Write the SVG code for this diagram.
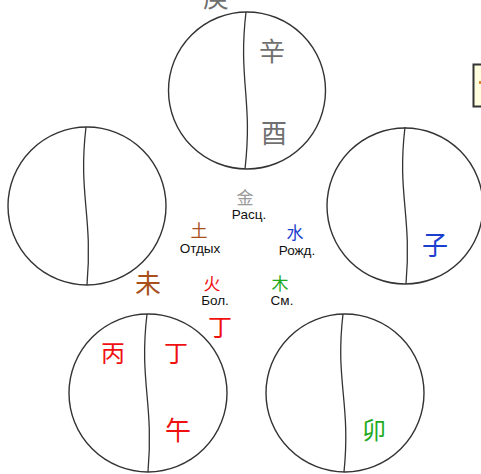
<svg xmlns="http://www.w3.org/2000/svg" width="481" height="474" viewBox="0 0 481 474">
<style>
.ring{fill:#fff;stroke:#333;stroke-width:1.4}
.div{fill:none;stroke:#333;stroke-width:1.3}
.cjk{font-family:"Noto Sans CJK SC","Noto Sans CJK JP",sans-serif;text-anchor:middle}
.lab{font-family:"Liberation Sans",Arial,sans-serif;font-size:13.5px;fill:#111;text-anchor:middle}
.gray{fill:#707070}
.lgray{fill:#9a9a9a}
.brown{fill:#a84f1c}
.red{fill:#f01010}
.blue{fill:#1c3fd0}
.green{fill:#1eaa1e}
</style>
<rect width="481" height="474" fill="#fff"/>
<text class="cjk gray" x="216" y="7" font-size="26">庚</text>
<g id="node-top">
<circle class="ring" cx="247" cy="90.5" r="78.5"/>
<path class="div" d="M246,12 C238,80 253,100 245,169"/>
<text class="cjk gray" x="272" y="61" font-size="26">辛</text>
<text class="cjk gray" x="274" y="143" font-size="26">酉</text>
</g>
<g id="node-left">
<circle class="ring" cx="87" cy="206" r="79"/>
<path class="div" d="M86,127 C78,195 93,215 87,285"/>
</g>
<g id="node-right">
<circle class="ring" cx="405" cy="206" r="78"/>
<path class="div" d="M405,127 C397,195 412,215 406,284"/>
<text class="cjk blue" x="435" y="255" font-size="26">子</text>
</g>
<g id="node-bottom-left">
<circle class="ring" cx="148" cy="393" r="79"/>
<path class="div" d="M147,314 C139,382 154,402 148,472"/>
<text class="cjk red" x="113" y="362" font-size="24">丙</text>
<text class="cjk red" x="176" y="362" font-size="24">丁</text>
<text class="cjk red" x="178" y="440" font-size="26">午</text>
</g>
<g id="node-bottom-right">
<circle class="ring" cx="345" cy="393" r="79"/>
<path class="div" d="M343,314 C335,382 351,402 344,472"/>
<text class="cjk green" x="374" y="439" font-size="24">卯</text>
</g>
<g id="center-labels">
<text class="cjk lgray" x="245" y="203.5" font-size="17">金</text>
<text class="lab" x="249" y="219">Расц.</text>
<text class="cjk brown" x="199" y="236.5" font-size="17">土</text>
<text class="lab" x="200" y="253">Отдых</text>
<text class="cjk blue" x="295" y="238.5" font-size="17">水</text>
<text class="lab" x="297" y="255">Рожд.</text>
<text class="cjk red" x="212" y="289.5" font-size="17">火</text>
<text class="lab" x="215" y="305">Бол.</text>
<text class="cjk green" x="280" y="289.5" font-size="17">木</text>
<text class="lab" x="282" y="305">См.</text>
<text class="cjk brown" x="148" y="293" font-size="26">未</text>
<text class="cjk red" x="220" y="336" font-size="24">丁</text>
</g>
<g id="side-box">
<rect x="473.5" y="64.5" width="20" height="42" fill="#ffffe0" stroke="#333" stroke-width="2"/>
<rect x="479" y="81" width="2" height="3" fill="#e08a30"/>
</g>
</svg>
